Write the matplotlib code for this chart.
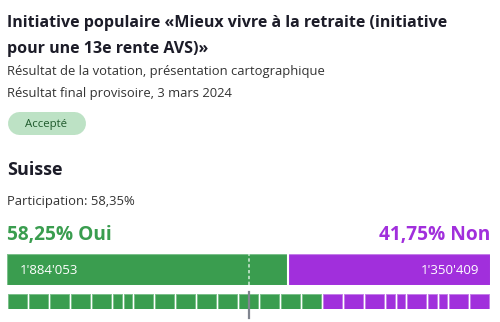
import matplotlib
matplotlib.use('Agg')
import matplotlib.pyplot as plt
import numpy as np

plt.rcParams['font.family'] = ['Open Sans', 'DejaVu Sans']

# données
title_lines = ['Initiative populaire «Mieux vivre à la retraite (initiative',
               'pour une 13e rente AVS)»']
subtitle = 'Résultat de la votation, présentation cartographique'
date_text = 'Résultat final provisoire, 3 mars 2024'
status = 'Accepté'
region = 'Suisse'
participation = '58,35%'
pct_oui = '58,25%'
pct_non = '41,75%'
votes_oui = 1884053
votes_non = 1350409
# poids des cantons (1 = canton, 0.5 = demi-canton)
cantons_oui = [1, 1, 1, 1, 1, 0.5, 0.5, 1, 1, 1, 1, 1, 1, 1, 1, 1]
cantons_non = [1, 1, 1, 0.5, 0.5, 1, 0.5, 0.5, 1, 1]

GREEN = '#3a9d4f'
GREEN_LIGHT = '#7cc08b'
PURPLE = '#a12fdc'
PURPLE_LIGHT = '#c47ee8'
DARK = '#1c1c28'

W, H = 500, 322
fig = plt.figure(figsize=(W / 100, H / 100), dpi=100)
fig.patch.set_facecolor('white')

# axe texte en pixels
ax = fig.add_axes([0, 0, 1, 1])
ax.set_xlim(0, W)
ax.set_ylim(H, 0)
ax.axis('off')

def fmt(n):
    return f'{n:,}'.replace(',', "'")

ax.text(7, 27, title_lines[0], fontsize=11.5, fontweight='bold', color=DARK, va='baseline')
ax.text(7, 53, title_lines[1], fontsize=11.5, fontweight='bold', color=DARK, va='baseline')
ax.text(7, 75, subtitle, fontsize=9.4, color='#333333', va='baseline')
ax.text(7, 97, date_text, fontsize=9.4, color='#333333', va='baseline')

# pastille "Accepté" (ligne épaisse à bouts ronds)
ax.plot([18.5, 73.5], [122.5, 122.5], color='#bde2c5', lw=23 * 72 / 100,
        solid_capstyle='round')
ax.text(46, 122.5, status, fontsize=8.2, color='#1f5a2c', ha='center', va='center_baseline')

ax.text(7, 175, region, fontsize=13, fontweight='bold', color=DARK, va='baseline')
ax.text(7, 205, 'Participation: ' + participation, fontsize=9.35, color='#333333', va='baseline')
ax.text(7, 240, pct_oui + ' Oui', fontsize=13.8, fontweight='bold', color=GREEN, va='baseline')
ax.text(490, 240, pct_non + ' Non', fontsize=13.8, fontweight='bold', color=PURPLE,
        va='baseline', ha='right')

# barre principale
x0, x1 = 7, 490
def px_axes(top, bottom):
    return fig.add_axes([x0 / W, (H - bottom) / H, (x1 - x0) / W, (bottom - top) / H])

axb = px_axes(254, 285)
total = votes_oui + votes_non
axb.barh(0, votes_oui, height=1, color=GREEN, edgecolor=GREEN_LIGHT, linewidth=0.8)
axb.barh(0, votes_non, left=votes_oui, height=1, color=PURPLE, edgecolor=PURPLE_LIGHT, linewidth=0.8)
axb.axvline(votes_oui, color='white', lw=1.5)
axb.axvline(total / 2, color='#c8e6cf', lw=1.2, dashes=(2, 1.5))
axb.set_xlim(0, total)
axb.set_ylim(-0.5, 0.5)
axb.axis('off')
axb.text(total * 0.027, 0, fmt(votes_oui), color='white', fontsize=9.5, va='center_baseline')
axb.text(total * 0.977, 0, fmt(votes_non), color='white', fontsize=9.5, va='center_baseline', ha='right')

# cantons
axc = px_axes(294, 309)
weights = np.array(cantons_oui + cantons_non)
colors = [GREEN] * len(cantons_oui) + [PURPLE] * len(cantons_non)
edges = [GREEN_LIGHT] * len(cantons_oui) + [PURPLE_LIGHT] * len(cantons_non)
n_total = weights.sum()
gap = 2 / ((x1 - x0) / n_total)
lefts = np.concatenate([[0], np.cumsum(weights)[:-1]])
axc.barh(0, weights - gap, left=lefts + gap / 2, height=1, color=colors, edgecolor=edges, linewidth=0.7)
axc.set_xlim(0, n_total)
axc.set_ylim(-0.5, 0.5)
axc.axis('off')
axc.axvline(n_total / 2, ymin=-0.6, ymax=1.13, clip_on=False, color='#80858f', lw=1.6)

fig.savefig('out.png', dpi=100, facecolor='white')
